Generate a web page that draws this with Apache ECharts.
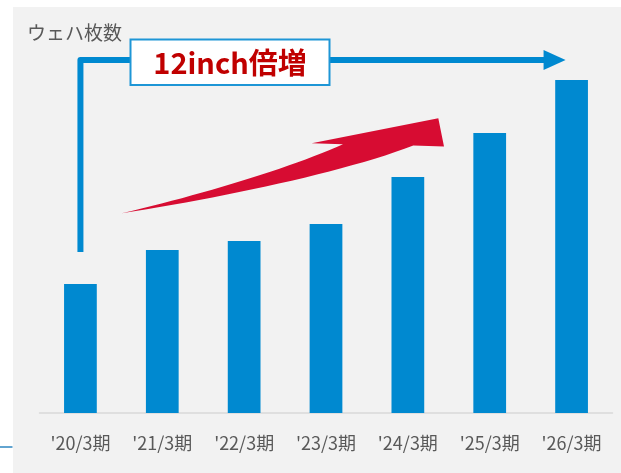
<!DOCTYPE html>
<html>
<head>
<meta charset="utf-8">
<script src="https://cdn.jsdelivr.net/npm/echarts@6/dist/echarts.min.js"></script>
<style>
  html, body { margin: 0; padding: 0; background: #ffffff; }
  #chart { width: 621px; height: 473px; }
</style>
</head>
<body>
<div id="chart"></div>
<script>
// Wafer count by fiscal year (relative units)
const categories = ["'20/3期", "'21/3期", "'22/3期", "'23/3期", "'24/3期", "'25/3期", "'26/3期"];
const waferCounts = [129, 163, 172, 189, 236, 280, 333];
const axisTitle = 'ウェハ枚数';
const calloutText = '12inch倍増';

const BLUE = '#0089D0';
const RED_ARROW = '#D70C32';
const FONT = '"Noto Sans CJK JP", "Noto Sans", sans-serif';

const chart = echarts.init(document.getElementById('chart'), null, { renderer: 'canvas' });

chart.setOption({
  backgroundColor: '#ffffff',
  animation: false,
  grid: { left: 39.5, right: 8.5, top: 13, bottom: 60 },
  xAxis: {
    type: 'category',
    data: categories,
    axisLine: { lineStyle: { color: '#d9d9d9', width: 1.5 } },
    axisTick: { show: false },
    axisLabel: { color: '#595959', fontSize: 18, fontFamily: FONT, margin: 21 }
  },
  yAxis: {
    type: 'value',
    min: 0,
    max: 400,
    show: false
  },
  series: [{
    type: 'bar',
    data: waferCounts,
    barWidth: '40%',
    itemStyle: { color: BLUE },
    z: 3
  }]
});

// Annotation layer: panel, bracket arrow, callout box, growth swoosh
const first = chart.convertToPixel({ gridIndex: 0 }, [0, 0]);
const last = chart.convertToPixel({ gridIndex: 0 }, [categories.length - 1, 0]);
const bx = first[0];          // bracket starts over the first bar
const tipX = last[0] - 6;     // arrow tip just before the last bar centre
const lineY = 60;

// Sample a cubic Bezier segment into polygon points
function cubic(p0, p1, p2, p3, steps) {
  const pts = [];
  for (let i = 0; i <= steps; i++) {
    const t = i / steps, u = 1 - t;
    pts.push([
      u * u * u * p0[0] + 3 * u * u * t * p1[0] + 3 * u * t * t * p2[0] + t * t * t * p3[0],
      u * u * u * p0[1] + 3 * u * u * t * p1[1] + 3 * u * t * t * p2[1] + t * t * t * p3[1]
    ]);
  }
  return pts;
}

// Curved growth arrow: tapered tail, curved shaft, barbed head
const swooshPoints = []
  .concat(cubic([121.7, 213.3], [200, 195], [290, 168], [343, 144.3], 24))
  .concat([[311.7, 143.3], [438.3, 118.3], [444, 146.5]])
  .concat(cubic([413.3, 145.5], [345, 172], [220, 198], [121.7, 213.3], 24));

chart.setOption({
  graphic: [
    { type: 'rect', z: -10, silent: true,
      shape: { x: 13, y: 7, width: 621 - 13, height: 473 - 7 },
      style: { fill: '#F2F2F2' } },
    { type: 'line', z: -9, shape: { x1: 0, y1: 447, x2: 12.5, y2: 447 },
      style: { stroke: '#2E86C1', lineWidth: 1.5 } },
    { type: 'text', z: 10, left: 27, top: 23,
      style: { text: axisTitle, fill: '#595959', font: '19px ' + FONT } },
    { type: 'polyline', z: 10,
      shape: { points: [[bx, 252], [bx, lineY], [tipX - 21, lineY]] },
      style: { stroke: BLUE, lineWidth: 6, fill: null, lineJoin: 'round' } },
    { type: 'polygon', z: 10,
      shape: { points: [[tipX - 22, lineY - 10], [tipX, lineY], [tipX - 22, lineY + 10]] },
      style: { fill: BLUE } },
    { type: 'rect', z: 11,
      shape: { x: 130.5, y: 39.5, width: 199, height: 45.5 },
      style: { fill: '#ffffff', stroke: '#1E96D6', lineWidth: 2 } },
    { type: 'text', z: 12, x: 230, y: 63,
      style: { text: calloutText, fill: '#C00000', font: 'bold 29px ' + FONT,
               textAlign: 'center', textVerticalAlign: 'middle' } },
    { type: 'polygon', z: 10,
      shape: { points: swooshPoints },
      style: { fill: RED_ARROW } }
  ]
});
</script>
</body>
</html>
